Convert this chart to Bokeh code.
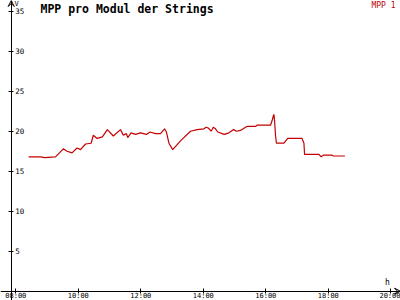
from bokeh.plotting import figure
from bokeh.models import Range1d, LinearAxis, FixedTicker, Label, Arrow, VeeHead
from bokeh.embed import file_html
from bokeh.resources import INLINE

# data: time of day in hours, MPP voltage per module (V)
hours = [8.41, 8.79, 8.92, 9.27, 9.52, 9.64, 9.80, 9.96, 10.07, 10.23, 10.41, 10.48,
         10.60, 10.77, 10.93, 11.12, 11.35, 11.44, 11.54, 11.58, 11.69, 11.83, 11.99,
         12.18, 12.29, 12.47, 12.63, 12.76, 12.82, 12.90, 13.02, 13.27, 13.59, 13.80,
         14.02, 14.09, 14.16, 14.25, 14.32, 14.39, 14.46, 14.67, 14.82, 14.97, 15.06,
         15.19, 15.35, 15.40, 15.67, 15.72, 16.15, 16.20, 16.24, 16.26, 16.28, 16.31,
         16.34, 16.58, 16.70, 17.16, 17.22, 17.24, 17.70, 17.77, 17.84, 18.12, 18.16,
         18.53]
mpp1 = [16.8, 16.8, 16.7, 16.8, 17.8, 17.5, 17.3, 17.9, 17.7, 18.4, 18.5, 19.5,
        19.1, 19.3, 20.2, 19.4, 20.2, 19.5, 19.7, 19.2, 19.8, 19.6, 19.8,
        19.6, 19.9, 19.7, 19.7, 20.3, 19.9, 18.5, 17.7, 18.8, 20.0, 20.2,
        20.3, 20.5, 20.4, 20.0, 20.5, 20.3, 19.9, 19.6, 19.8, 20.2, 20.0,
        20.1, 20.5, 20.6, 20.6, 20.75, 20.75, 21.3, 21.9, 22.1, 21.3, 19.5,
        18.5, 18.5, 19.1, 19.1, 18.5, 17.1, 17.1, 16.8, 17.0, 17.0, 16.9,
        16.9]
x_ticks = [8, 10, 12, 14, 16, 18, 20]
x_tick_labels = ["08:00", "10:00", "12:00", "14:00", "16:00", "18:00", "20:00"]
y_ticks = [5, 10, 15, 20, 25, 30, 35]

title = "MPP pro Modul der Strings"
series_name = "MPP 1"
RED = "#c40000"
MONO = "DejaVu Sans Mono"

X0, X1 = 7.51, 20.31
Y0, Y1 = -1.16, 36.34
XAX = 7.853

p = figure(width=400, height=300, output_backend="svg", toolbar_location=None,
           x_range=Range1d(X0, X1), y_range=Range1d(Y0, Y1),
           x_axis_location=None, y_axis_location=None,
           min_border=0, min_border_left=0, min_border_right=0,
           min_border_top=0, min_border_bottom=0)
p.outline_line_color = None
p.xgrid.visible = False
p.ygrid.visible = False
p.background_fill_color = "white"
p.border_fill_color = "white"

yax = LinearAxis(fixed_location=XAX, ticker=FixedTicker(ticks=y_ticks))
yax.major_tick_in = 3
yax.major_tick_out = 2
yax.minor_tick_in = 0
yax.minor_tick_out = 0
yax.major_label_standoff = 2
yax.major_label_text_font = MONO
yax.major_label_text_font_size = "7.5px"
yax.major_label_text_color = "black"
yax.axis_line_color = "black"
p.add_layout(yax, "right")

xax = LinearAxis(fixed_location=0, ticker=FixedTicker(ticks=x_ticks))
xax.major_label_overrides = {t: s for t, s in zip(x_ticks, x_tick_labels)}
xax.major_tick_in = 3
xax.major_tick_out = 2
xax.minor_tick_in = 0
xax.minor_tick_out = 0
xax.major_label_standoff = -1
xax.major_label_text_font = MONO
xax.major_label_text_font_size = "7px"
xax.major_label_text_color = "black"
xax.axis_line_color = "black"
p.add_layout(xax, "below")

# arrow heads on axes
p.add_layout(Arrow(end=VeeHead(size=6, line_color="black", line_width=1, fill_color=None),
                   x_start=XAX, y_start=Y1 - 1, x_end=XAX, y_end=Y1, line_alpha=0))
p.add_layout(Arrow(end=VeeHead(size=6, line_color="black", line_width=1, fill_color=None),
                   x_start=X1 - 0.2, y_start=0, x_end=X1, y_end=0, line_alpha=0))

p.line(hours, mpp1, line_color=RED, line_width=1.2)

p.add_layout(Label(x=40, y=300 - 8, x_units="screen", y_units="screen", text=title,
                   text_font=MONO, text_font_style="bold", text_font_size="11.5px",
                   text_color="black", text_baseline="middle"))
p.add_layout(Label(x=395, y=300 - 4.5, x_units="screen", y_units="screen", text=series_name,
                   text_font=MONO, text_font_size="8px", text_color=RED,
                   text_align="right", text_baseline="middle"))
p.add_layout(Label(x=14, y=300 - 3, x_units="screen", y_units="screen", text="V",
                   text_font=MONO, text_font_size="7px", text_color="black",
                   text_baseline="middle"))
p.add_layout(Label(x=387, y=300 - 282, x_units="screen", y_units="screen", text="h",
                   text_font=MONO, text_font_size="8px", text_color="black",
                   text_align="center", text_baseline="middle"))

open("out.html", "w").write(file_html(p, INLINE))
